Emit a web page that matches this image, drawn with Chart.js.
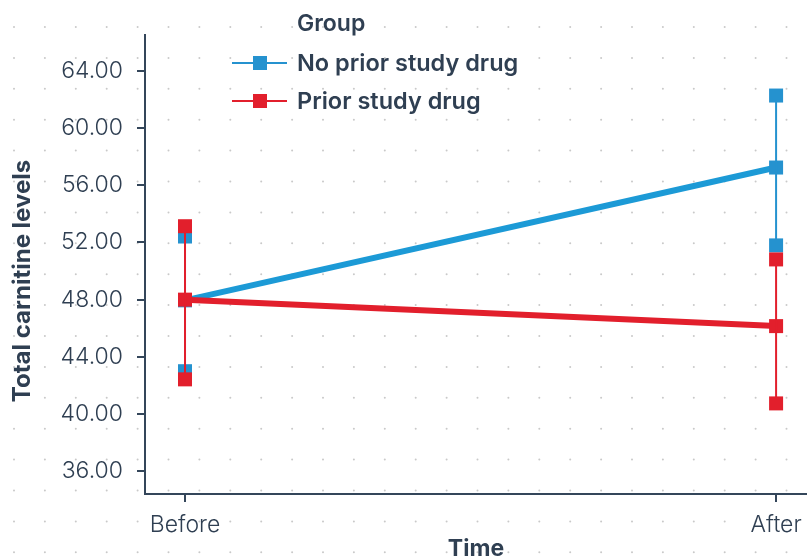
<!DOCTYPE html>
<html>
<head>
<meta charset="utf-8">
<script src="https://cdn.jsdelivr.net/npm/chart.js@4"></script>
<style>
  html, body { margin: 0; padding: 0; background: #ffffff; }
  #wrap { width: 807px; height: 559px; }
</style>
</head>
<body>
<div id="wrap"><canvas id="c" width="807" height="559"></canvas></div>
<script>
// Time points and groups
const timeLabels = ['Before', 'After'];
const groupNames = ['No prior study drug', 'Prior study drug'];
const legendTitle = 'Group';
const yTitle = 'Total carnitine levels';
const xTitle = 'Time';

// Mean and interval bounds per time point
const noPriorMean  = [47.95, 57.23];
const noPriorLower = [43.00, 51.79];
const noPriorUpper = [52.41, 62.26];
const priorMean    = [48.00, 46.15];
const priorLower   = [42.43, 40.75];
const priorUpper   = [53.13, 50.81];

// Y tick values
const yTicks = [36, 40, 44, 48, 52, 56, 60, 64];

const BLUE = '#2592cf';
const BLUE_LINE = '#1c9ad6';
const RED = '#e21f2c';
const TEXT = '#2f3f52';
const AXIS = '#34465a';
const FONT = 'Inter, "Open Sans", sans-serif';

function meanPoints(means) {
  return means.map((v, i) => ({ x: i, y: v }));
}
function barPoints(lo, hi) {
  const pts = [];
  lo.forEach((v, i) => {
    pts.push({ x: i, y: v });
    pts.push({ x: i, y: hi[i] });
    pts.push({ x: i, y: null });
  });
  return pts;
}

// Dotted background pattern over the whole canvas
const dotBackground = {
  id: 'dotBackground',
  beforeDraw(chart) {
    const ctx = chart.ctx;
    ctx.save();
    ctx.fillStyle = '#ffffff';
    ctx.fillRect(0, 0, chart.width, chart.height);
    ctx.fillStyle = '#c9c9c9';
    for (let y = 27; y < chart.height; y += 30.9) {
      for (let x = 14; x < chart.width; x += 30.9) {
        ctx.beginPath();
        ctx.arc(x, y, 1, 0, Math.PI * 2);
        ctx.fill();
      }
    }
    ctx.restore();
  }
};

// Group legend and the vertical axis title
const overlayText = {
  id: 'overlayText',
  afterDraw(chart) {
    const ctx = chart.ctx;
    ctx.save();
    ctx.textBaseline = 'middle';
    ctx.textAlign = 'left';
    ctx.fillStyle = TEXT;
    ctx.font = '600 23px ' + FONT;
    ctx.fillText(legendTitle, 297, 24);
    const colors = [BLUE, RED];
    const ys = [63, 101];
    groupNames.forEach((name, i) => {
      ctx.strokeStyle = colors[i];
      ctx.lineWidth = 2;
      ctx.beginPath();
      ctx.moveTo(232, ys[i]);
      ctx.lineTo(287, ys[i]);
      ctx.stroke();
      ctx.fillStyle = colors[i];
      ctx.fillRect(260 - 7, ys[i] - 7, 14, 14);
      ctx.fillStyle = TEXT;
      ctx.font = '600 23.5px ' + FONT;
      ctx.fillText(name, 297, ys[i] + 1);
    });
    ctx.translate(23, 281);
    ctx.rotate(-Math.PI / 2);
    ctx.textAlign = 'center';
    ctx.font = 'bold 24px ' + FONT;
    ctx.fillText(yTitle, 0, 0);
    ctx.restore();
  }
};

new Chart(document.getElementById('c'), {
  type: 'scatter',
  data: {
    datasets: [
      {
        label: groupNames[1] + ' interval',
        data: barPoints(priorLower, priorUpper),
        showLine: true, spanGaps: false,
        borderColor: RED, borderWidth: 2,
        pointStyle: 'rect', pointRadius: 9.9, pointHoverRadius: 9.9,
        pointBackgroundColor: RED, pointBorderColor: RED, pointBorderWidth: 0,
        order: 1
      },
      {
        label: groupNames[1],
        data: meanPoints(priorMean),
        showLine: true,
        borderColor: RED, borderWidth: 6,
        pointStyle: 'rect', pointRadius: 9.9, pointHoverRadius: 9.9,
        pointBackgroundColor: RED, pointBorderColor: RED, pointBorderWidth: 0,
        order: 2
      },
      {
        label: groupNames[0] + ' interval',
        data: barPoints(noPriorLower, noPriorUpper),
        showLine: true, spanGaps: false,
        borderColor: BLUE, borderWidth: 2,
        pointStyle: 'rect', pointRadius: 9.9, pointHoverRadius: 9.9,
        pointBackgroundColor: BLUE, pointBorderColor: BLUE, pointBorderWidth: 0,
        order: 3
      },
      {
        label: groupNames[0],
        data: meanPoints(noPriorMean),
        showLine: true,
        borderColor: BLUE_LINE, borderWidth: 6,
        pointStyle: 'rect', pointRadius: 9.9, pointHoverRadius: 9.9,
        pointBackgroundColor: BLUE, pointBorderColor: BLUE, pointBorderWidth: 0,
        order: 4
      }
    ]
  },
  options: {
    responsive: false,
    animation: false,
    layout: { autoPadding: false, padding: { top: 35, left: 0, right: 0, bottom: 0 } },
    plugins: { legend: { display: false }, tooltip: { enabled: false } },
    scales: {
      x: {
        type: 'linear',
        min: -0.0677, max: 1.0523,
        afterBuildTicks(scale) { scale.ticks = timeLabels.map((_, i) => ({ value: i })); },
        afterFit(scale) { scale.height = 65; scale.paddingLeft = 0; scale.paddingRight = 0; },
        grid: { drawOnChartArea: false, drawTicks: true, tickLength: 8, color: AXIS, lineWidth: 2 },
        border: { display: true, color: AXIS, width: 2 },
        ticks: {
          callback: (v) => timeLabels[v],
          font: { family: FONT, size: 23, weight: 300 },
          color: TEXT, padding: 9, maxRotation: 0, autoSkip: false
        },
        title: {
          display: true, text: xTitle,
          font: { family: FONT, size: 23, weight: 'bold' },
          color: TEXT, padding: { top: 0, bottom: -4 }
        }
      },
      y: {
        min: 34.42, max: 66.49,
        afterBuildTicks(scale) { scale.ticks = yTicks.map(v => ({ value: v })); },
        afterFit(scale) { scale.width = 145; scale.paddingTop = 0; scale.paddingBottom = 0; },
        grid: { drawOnChartArea: false, drawTicks: true, tickLength: 8, color: AXIS, lineWidth: 2 },
        border: { display: true, color: AXIS, width: 2 },
        ticks: {
          callback: (v) => Number(v).toFixed(2),
          font: { family: FONT, size: 23, weight: 300 },
          color: TEXT, padding: 14
        }
      }
    }
  },
  plugins: [dotBackground, overlayText]
});
</script>
</body>
</html>
